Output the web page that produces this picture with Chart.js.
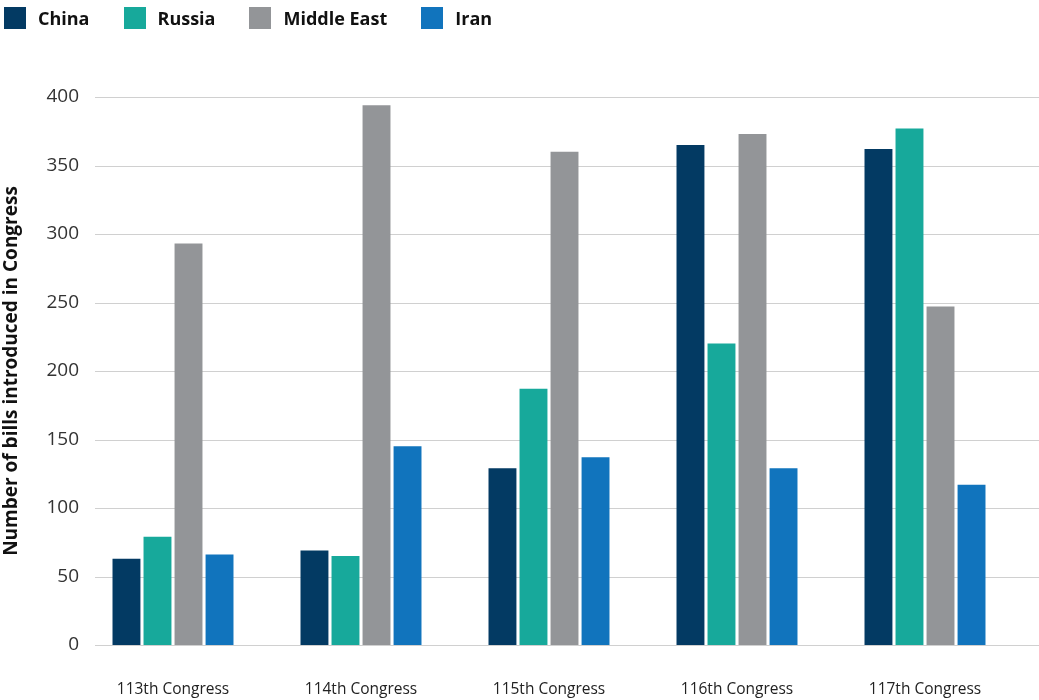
<!DOCTYPE html>
<html>
<head>
<meta charset="utf-8">
<title>Bills introduced in Congress by topic</title>
<script src="https://cdn.jsdelivr.net/npm/chart.js@4"></script>
<style>
  html, body { margin: 0; padding: 0; background: #ffffff; }
  #wrap { position: relative; width: 1039px; height: 700px; }
  #legend { position: absolute; left: 4px; top: 6px; display: flex; align-items: center;
            font: bold 18px "Open Sans", "Noto Sans", sans-serif; color: #111; }
  .item { display: flex; align-items: center; margin-right: 34px; }
  .swatch { width: 22px; height: 22px; margin-right: 12px; }
  canvas { position: absolute; left: 0; top: 0; }
</style>
</head>
<body>
<div id="wrap">
  <canvas id="chart" width="1039" height="700"></canvas>
  <div id="legend"></div>
</div>
<script>
// Congress sessions on the x axis
const categories = ["113th Congress", "114th Congress", "115th Congress", "116th Congress", "117th Congress"];

// Number of bills introduced, per topic
const china      = [63, 69, 129, 365, 362];
const russia     = [79, 65, 187, 220, 377];
const middleEast = [293, 394, 360, 373, 247];
const iran       = [66, 145, 137, 129, 117];

const seriesNames  = ["China", "Russia", "Middle East", "Iran"];
const seriesColors = ["#033a63", "#17a99b", "#939598", "#1174bd"];
const yTicks = [0, 50, 100, 150, 200, 250, 300, 350, 400];

const seriesValues = [china, russia, middleEast, iran];
const datasets = seriesNames.map((name, i) => ({
  label: name,
  data: seriesValues[i],
  backgroundColor: seriesColors[i],
  borderWidth: 0,
  categoryPercentage: 0.66,
  barPercentage: 0.9
}));

// Legend row above the plot
const legendEl = document.getElementById("legend");
seriesNames.forEach((name, i) => {
  const item = document.createElement("div");
  item.className = "item";
  const sw = document.createElement("div");
  sw.className = "swatch";
  sw.style.background = seriesColors[i];
  const txt = document.createElement("span");
  txt.textContent = name;
  item.appendChild(sw);
  item.appendChild(txt);
  legendEl.appendChild(item);
});

// Horizontal grid lines that run past the plot area to the right edge
const wideGrid = {
  id: "wideGrid",
  beforeDatasetsDraw(chart) {
    const y = chart.scales.y;
    const ctx = chart.ctx;
    ctx.save();
    ctx.strokeStyle = "#d0d0d0";
    ctx.lineWidth = 1;
    y.ticks.forEach(t => {
      const py = Math.round(y.getPixelForValue(t.value)) + 0.5;
      ctx.beginPath();
      ctx.moveTo(95, py);
      ctx.lineTo(chart.width, py);
      ctx.stroke();
    });
    ctx.restore();
  }
};

new Chart(document.getElementById("chart"), {
  type: "bar",
  data: { labels: categories, datasets },
  plugins: [wideGrid],
  options: {
    responsive: false,
    animation: false,
    layout: { padding: { top: 97, right: 20, left: 0, bottom: 0 } },
    plugins: { legend: { display: false }, tooltip: { enabled: false } },
    scales: {
      x: {
        grid: { display: false, drawTicks: false },
        border: { display: false },
        ticks: {
          color: "#222",
          font: { family: "'Open Sans', 'Noto Sans', sans-serif", size: 15.5 },
          padding: 35,
          maxRotation: 0
        },
        afterFit(scale) { scale.height = 55; }
      },
      y: {
        min: 0,
        max: 400,
        afterBuildTicks(scale) { scale.ticks = yTicks.map(v => ({ value: v })); },
        grid: { display: false, drawTicks: false },
        border: { display: false },
        ticks: {
          color: "#333",
          font: { family: "'Open Sans', 'Noto Sans', sans-serif", size: 19 },
          padding: 0
        },
        title: {
          display: true,
          text: "Number of bills introduced in Congress",
          color: "#111",
          font: { family: "'Open Sans', 'Noto Sans', sans-serif", size: 19, weight: "bold" },
          padding: { top: 0, bottom: 0 }
        },
        afterFit(scale) { scale.width = 79; }
      }
    }
  }
});
</script>
</body>
</html>
